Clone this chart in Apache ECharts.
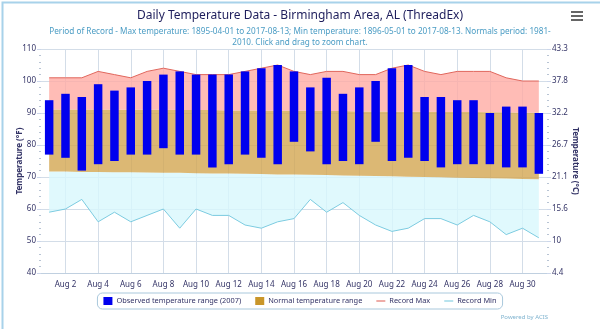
<!DOCTYPE html>
<html><head><meta charset="utf-8">
<script src="https://cdn.jsdelivr.net/npm/echarts@6/dist/echarts.min.js"></script>
<style>html,body{margin:0;padding:0;background:#fff}#c{width:600px;height:329px}</style>
</head><body><div id="c"></div>
<script>
const days = ['Aug 1','Aug 2','Aug 3','Aug 4','Aug 5','Aug 6','Aug 7','Aug 8','Aug 9','Aug 10','Aug 11','Aug 12','Aug 13','Aug 14','Aug 15','Aug 16','Aug 17','Aug 18','Aug 19','Aug 20','Aug 21','Aug 22','Aug 23','Aug 24','Aug 25','Aug 26','Aug 27','Aug 28','Aug 29','Aug 30','Aug 31'];
const obsHigh = [94,96,95,99,97,98,100,102,103,102,102,102,103,104,105,103,98,101,96,98,100,104,105,95,95,94,94,90,92,92,90];
const obsLow  = [77,76,72,74,75,77,77,79,77,77,73,74,77,76,74,81,78,74,75,74,81,75,76,75,73,74,74,74,73,73,71];
const normHigh = [91.1,91.1,91.1,91.1,91.0,91.0,91.0,91.0,90.9,90.9,90.9,90.8,90.8,90.8,90.7,90.7,90.7,90.6,90.6,90.5,90.5,90.5,90.4,90.4,90.3,90.3,90.3,90.2,90.2,90.1,90.1];
const normLow  = [71.7,71.7,71.6,71.6,71.5,71.5,71.4,71.3,71.3,71.2,71.1,71.1,71.0,70.9,70.8,70.8,70.7,70.6,70.5,70.4,70.3,70.2,70.1,70.0,69.9,69.8,69.7,69.6,69.5,69.4,69.3];
const recMax = [101,101,101,103,102,101,103,104,103,102,102,102,103,104,105,103,102,103,103,102,102,104,105,103,102,103,103,103,101,100,100];
const recMin = [59,60,63,56,59,56,58,60,54,60,58,58,55,54,56,57,63,59,62,58,55,53,54,57,57,55,58,56,52,54,51];
const fTicks = [40,50,60,70,80,90,100,110];

const FONT = 'Noto Sans';
const NAVY = '#333366';
const diff = (a, b) => a.map((v, i) => +(v - b[i]).toFixed(2));
const toC = f => Math.round((f - 32) * 5 / 9 * 10) / 10;
const LINE_ICON = 'path://M0,0H20V2.4H0Z';
const labelDays = days.filter((d, i) => i % 2 === 1);

const chart = echarts.init(document.getElementById('c'), null, {renderer: 'canvas'});
const gridColor = '#d3dde8';
const yCommon = {
  type: 'value', min: fTicks[0], max: fTicks[fTicks.length - 1], interval: 10,
  splitLine: {show: true, lineStyle: {color: gridColor, width: 1}},
  axisLine: {show: false},
  axisTick: {show: true, length: 4, lineStyle: {color: '#ccd6eb'}},
  minorTick: {show: true, splitNumber: 5, length: 2, lineStyle: {color: '#b8c4d4'}},
  nameLocation: 'middle',
  nameMoveOverlap: false,
  nameTextStyle: {fontFamily: FONT, fontSize: 8, fontWeight: 'bold', color: NAVY}
};
chart.setOption({
  animation: false,
  textStyle: {fontFamily: FONT},
  title: {
    text: 'Daily Temperature Data - Birmingham Area, AL (ThreadEx)',
    subtext: 'Period of Record - Max temperature: 1895-04-01 to 2017-08-13; Min temperature: 1896-05-01 to 2017-08-13. Normals period: 1981-\n2010. Click and drag to zoom chart.',
    left: 'center', top: 5, itemGap: 4,
    textStyle: {fontFamily: FONT, fontSize: 12, fontWeight: 'normal', color: '#1e1e5c'},
    subtextStyle: {fontFamily: FONT, fontSize: 8.2, color: '#4a9cc4', lineHeight: 11, align: 'center'}
  },
  grid: {left: 41, right: 53, top: 49, bottom: 56, containLabel: false},
  legend: {
    data: [
      {name: 'Observed temperature range (2007)', icon: 'rect'},
      {name: 'Normal temperature range', icon: 'rect', itemStyle: {color: '#c9962a'}},
      {name: 'Record Max', icon: LINE_ICON, itemStyle: {color: '#e0665c'}},
      {name: 'Record Min', icon: LINE_ICON, itemStyle: {color: '#7ccbe0'}}
    ],
    left: 'center', top: 293, itemWidth: 9, itemHeight: 8, itemGap: 14,
    symbolKeepAspect: true,
    borderColor: '#a9c8dc', borderWidth: 1, borderRadius: 5, padding: [4, 6],
    textStyle: {fontFamily: FONT, fontSize: 7.4, color: NAVY, padding: [0, 0, 0, -1]}
  },
  xAxis: {
    type: 'category', data: days, boundaryGap: true,
    axisLine: {show: true, lineStyle: {color: '#c0d0e0'}},
    axisTick: {show: false},
    axisLabel: {interval: (i) => i % 2 === 1, fontSize: 8, color: NAVY, margin: 8, fontFamily: FONT},
    splitLine: {show: false}
  },
  yAxis: [
    Object.assign({}, yCommon, {
      position: 'left', name: 'Temperature (°F)', nameGap: 17, nameRotate: 90,
      axisLabel: {fontSize: 8, color: NAVY, margin: 5, fontFamily: FONT}
    }),
    Object.assign({}, yCommon, {
      position: 'right', name: 'Temperature (°C)', nameGap: 24, nameRotate: -90,
      splitLine: {show: false},
      axisLabel: {fontSize: 8, color: NAVY, margin: 5, fontFamily: FONT, formatter: v => String(toC(v))}
    })
  ],
  series: [
    {name: '_vgrid', type: 'line', data: [], silent: true, z: 0,
      markLine: {silent: true, z: 0, symbol: ['none', 'none'], label: {show: false}, animation: false,
        lineStyle: {color: gridColor, type: 'solid', width: 1},
        data: labelDays.map(d => ({xAxis: d}))}},
    {name: '_recMinBase', type: 'line', stack: 'env', data: recMin, symbol: 'none', lineStyle: {width: 0}, silent: true, z: 1},
    {name: '_cyanBand', type: 'line', stack: 'env', data: diff(normLow, recMin), symbol: 'none', lineStyle: {width: 0}, areaStyle: {color: 'rgb(216,247,252)', opacity: 0.8}, silent: true, z: 1},
    {name: 'Normal temperature range', type: 'line', stack: 'env', data: diff(normHigh, normLow), symbol: 'none', itemStyle: {color: '#c9962a'}, lineStyle: {width: 0}, areaStyle: {color: 'rgb(211,166,81)', opacity: 0.8}, silent: true, z: 1},
    {name: '_pinkBand', type: 'line', stack: 'env', data: diff(recMax, normHigh), symbol: 'none', lineStyle: {width: 0}, areaStyle: {color: 'rgb(255,171,164)', opacity: 0.8}, silent: true, z: 1},
    {name: 'Record Max', type: 'line', data: recMax, symbol: 'none', itemStyle: {color: '#e0665c'}, lineStyle: {color: '#e0665c', width: 1}, z: 3},
    {name: 'Record Min', type: 'line', data: recMin, symbol: 'none', itemStyle: {color: '#7ccbe0'}, lineStyle: {color: '#7ccbe0', width: 1}, z: 3},
    {name: '_obsBase', type: 'bar', stack: 'obs', data: obsLow, barWidth: '52%', itemStyle: {color: 'rgba(0,0,0,0)'}, silent: true, z: 4},
    {name: 'Observed temperature range (2007)', type: 'bar', stack: 'obs', data: diff(obsHigh, obsLow), barWidth: '52%', itemStyle: {color: '#0000ee'}, z: 4}
  ],
  graphic: [
    {type: 'rect', left: 0, top: 0, shape: {width: 599, height: 328}, style: {fill: 'none', stroke: '#a8d2ea', lineWidth: 2}, silent: true},
    {type: 'rect', left: 571, top: 11, shape: {width: 12, height: 2}, style: {fill: '#666'}},
    {type: 'rect', left: 571, top: 15, shape: {width: 12, height: 2}, style: {fill: '#666'}},
    {type: 'rect', left: 571, top: 19, shape: {width: 12, height: 2}, style: {fill: '#666'}},
    {type: 'text', right: 52, top: 314, style: {text: 'Powered by ACIS', font: '6px "Noto Sans"', fill: '#7fb3cf'}}
  ]
});
</script></body></html>
